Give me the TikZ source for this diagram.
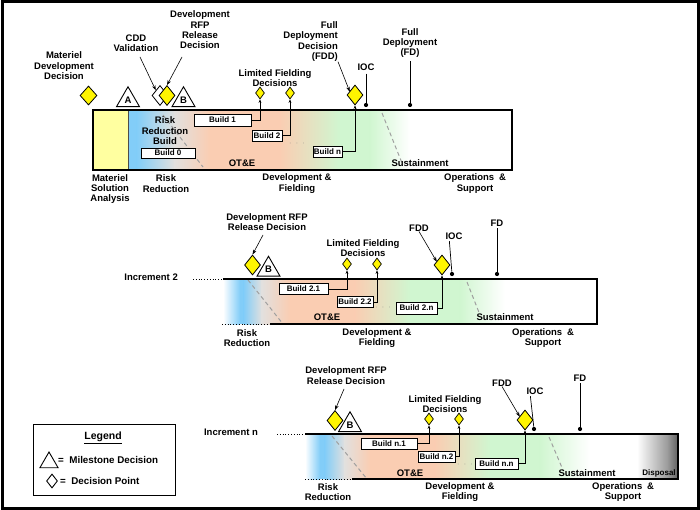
\documentclass[tikz,border=0pt]{standalone}
\usepackage{fontspec}
\setmainfont{Liberation Sans}
\usetikzlibrary{shapes.geometric,arrows.meta,calc}
\definecolor{blueC}{RGB}{130,205,248}
\definecolor{grayC}{RGB}{226,224,222}
\definecolor{peachC}{RGB}{250,205,178}
\definecolor{greenC}{RGB}{208,246,208}
\definecolor{msaC}{RGB}{255,255,160}
\definecolor{ydC}{RGB}{255,245,0}
\begin{document}
\begin{tikzpicture}[x=1pt,y=-1pt,
  lbl/.style={font=\fontsize{9.5}{10.4}\selectfont\bfseries, align=center, inner sep=0},
  buildbox/.style={draw, fill=white, line width=0.8, font=\fontsize{8}{9}\selectfont\bfseries, inner sep=0},
  ydiam/.style={diamond, draw, fill=ydC, line width=0.8, inner sep=0, minimum width=16, minimum height=20},
  sdiam/.style={diamond, draw, fill=ydC, line width=0.7, inner sep=0, minimum width=9, minimum height=12},
  wdiam/.style={diamond, draw, fill=white, line width=0.8, inner sep=0, minimum width=16, minimum height=20},
  milestone/.style={regular polygon, regular polygon sides=3, draw, fill=white, line width=0.9, inner sep=0, minimum size=26.5, font=\fontsize{9.5}{10}\selectfont\bfseries},
  dot/.style={circle, fill=black, inner sep=0, minimum size=4.2},
  arr/.style={-{Stealth[length=5pt,width=3.5pt]}, line width=0.6},
  conn/.style={-{Stealth[length=3.5pt,width=2.8pt]}, line width=0.7},
  pin/.style={line width=0.7},
  gdash/.style={gray!75, line width=1, dash pattern=on 4pt off 3pt},
  bandline/.style={line width=1.1},
  dotline/.style={line width=0.8, dotted},
  dots3/.style={font=\fontsize{8}{9}\selectfont, text=gray, inner sep=0}
]
\useasboundingbox (0,0) rectangle (700,510);
\draw[line width=3] (2,2) rectangle (698,508);

%% ================= Increment 1 =================
\fill[msaC] (93,110) rectangle (128,170);
\fill[blueC] (128,110) rectangle (137,170);
\shade[left color=blueC,right color=grayC] (136.7,110) rectangle (175,170);
\shade[left color=grayC,right color=peachC] (174.7,110) rectangle (210,170);
\fill[peachC] (209.7,110) rectangle (280,170);
\shade[left color=peachC,right color=greenC] (279.7,110) rectangle (340,170);
\fill[greenC] (339.7,110) rectangle (370,170);
\shade[left color=greenC,right color=white] (369.7,110) rectangle (410,170);
\draw[line width=0.6, black!70] (128,110) -- (128,170);
\draw[gdash] (163,115) -- (203,167);
\draw[gdash] (382,113) -- (402,163);
\draw[bandline] (93,110) rectangle (512,170);

\node[lbl] (rrb) at (165,131) {Risk\\Reduction\\Build};
\node[lbl] (ote1) at (242,163) {OT\&E};
\node[lbl] (sus1) at (420,163) {Sustainment};

\node[buildbox, minimum width=54, minimum height=10] (b10) at (168,153) {Build 0};
\node[buildbox, minimum width=57, minimum height=12] (b11) at (222.5,120) {Build 1};
\node[buildbox, minimum width=30, minimum height=11] (b12) at (267,135.5) {Build 2};
\node[dots3] (d1) at (297,144) {$\cdot\;\cdot\;\cdot$};
\node[buildbox, minimum width=29, minimum height=11] (b1n) at (327.5,151.5) {Build n};

\node[lbl] (mddl) at (64,66) {Materiel\\Development\\Decision};
\node[ydiam, minimum width=17, minimum height=19] (mdd) at (88.5,95.5) {};
\node[milestone] (msA) at (128,100) {A};
\node[lbl] (cddl) at (136,43) {CDD\\Validation};
\node[wdiam] (cdd) at (160,95.5) {};
\node[ydiam] (rfp1) at (167,95.5) {};
\node[milestone] (msB1) at (183.5,100) {B};
\node[lbl] (rfp1l) at (200,30) {Development\\RFP\\Release\\Decision};
\draw[arr] (140,57) -- (cdd.north west);
\draw[arr] (182,57) -- (rfp1.north);

\node[lbl] (lfd1l) at (275,78) {Limited Fielding\\Decisions};
\node[sdiam] (lf11) at (260,93) {};
\node[sdiam] (lf12) at (290,93) {};
\node[ydiam] (fdd1) at (355,95) {};
\node[lbl, align=right, anchor=east] (fdd1l) at (338,41.5) {Full\\Deployment\\Decision\\(FDD)};
\draw[arr] (fdd1l.south east) -- ([xshift=-1pt,yshift=-2pt]fdd1.north west);
\node[lbl] (ioc1l) at (366,67) {IOC};
\node[dot] (ioc1) at (366,105) {};
\draw[pin] (ioc1l.south) ++(0,3) -- (ioc1);
\node[lbl] (fd1l) at (410,43) {Full\\Deployment\\(FD)};
\node[dot] (fd1) at (410,105) {};
\draw[pin] (fd1l.south) ++(0,3) -- (fd1);

\draw[conn] (b11.east) -| (lf11.south);
\draw[conn] (b12.east) -| (lf12.south);
\draw[conn] (b1n.east) -| (fdd1.south);

\node[lbl] (msal) at (110,189) {Materiel\\Solution\\Analysis};
\node[lbl] (rr1) at (166,183.5) {Risk\\Reduction};
\node[lbl] (df1) at (297,183.5) {Development \&\\Fielding};
\node[lbl] (os1) at (475,183.5) {Operations\enspace\&\\Support};

%% ================= Increment 2 =================
\shade[left color=white,right color=blueC] (223,279) rectangle (240,324);
\fill[blueC] (239.7,279) rectangle (244,324);
\shade[left color=blueC,right color=grayC] (243.7,279) rectangle (262,324);
\shade[left color=grayC,right color=peachC] (261.7,279) rectangle (290,324);
\fill[peachC] (289.7,279) rectangle (355,324);
\shade[left color=peachC,right color=greenC] (354.7,279) rectangle (410,324);
\fill[greenC] (409.7,279) rectangle (460,324);
\shade[left color=greenC,right color=white] (459.7,279) rectangle (505,324);
\draw[gdash] (248,280) -- (283,324);
\draw[gdash] (467,282) -- (480,315);
\draw[dotline] (193,279) -- (223,279);
\draw[dotline] (222,324) -- (270,324);
\draw[bandline] (223,279) -- (597,279) -- (597,324) -- (270,324);

\node[lbl, anchor=east] (inc2) at (178,277.5) {Increment 2};
\node[lbl] (rfp2l) at (267,222) {Development RFP\\Release Decision};
\node[ydiam] (rfp2) at (252.5,265) {};
\node[milestone] (msB2) at (268.5,269.5) {B};
\draw[arr] (263,235) -- (rfp2.north);

\node[lbl] (lfd2l) at (363,248) {Limited Fielding\\Decisions};
\node[sdiam] (lf21) at (347,264) {};
\node[sdiam] (lf22) at (377,264) {};
\node[ydiam] (fdd2) at (442,265) {};
\node[lbl] (fdd2l) at (419,228) {FDD};
\draw[arr] (fdd2l.south) -- ([xshift=-1pt,yshift=-2pt]fdd2.north west);
\node[lbl] (ioc2l) at (454,236) {IOC};
\node[dot] (ioc2) at (452,274) {};
\draw[pin] (ioc2l.south west) ++(4,1.5) -- (ioc2);
\node[lbl] (fd2l) at (497,223) {FD};
\node[dot] (fd2) at (497,274) {};
\draw[pin] (fd2l.south) ++(0,2) -- (fd2);

\node[buildbox, minimum width=49, minimum height=11] (b21) at (303.5,289) {Build 2.1};
\node[buildbox, minimum width=36, minimum height=11] (b22) at (355,302) {Build 2.2};
\node[dots3] (d2) at (383,308) {$\cdot\;\cdot\;\cdot$};
\node[buildbox, minimum width=41, minimum height=12] (b2n) at (416.5,308) {Build 2.n};
\draw[conn] (b21.east) -| (lf21.south);
\draw[conn] (b22.east) -| (lf22.south);
\draw[conn] (b2n.east) -| (fdd2.south);

\node[lbl] (ote2) at (327,317) {OT\&E};
\node[lbl] (sus2) at (505,317) {Sustainment};
\node[lbl] (rr2) at (247,338) {Risk\\Reduction};
\node[lbl] (df2) at (377,338) {Development \&\\Fielding};
\node[lbl] (os2) at (543,338) {Operations\enspace\&\\Support};

%% ================= Increment n =================
\shade[left color=white,right color=blueC] (305,434) rectangle (320,479);
\fill[blueC] (319.7,434) rectangle (325,479);
\shade[left color=blueC,right color=grayC] (324.7,434) rectangle (345,479);
\shade[left color=grayC,right color=peachC] (344.7,434) rectangle (370,479);
\fill[peachC] (369.7,434) rectangle (435,479);
\shade[left color=peachC,right color=greenC] (434.7,434) rectangle (490,479);
\fill[greenC] (489.7,434) rectangle (540,479);
\shade[left color=greenC,right color=white] (539.7,434) rectangle (590,479);
\shade[left color=white,right color=black!40] (637,434) rectangle (668,479);
\shade[left color=black!40,right color=black!62] (667.7,434) rectangle (678,479);
\draw[gdash] (332,436) -- (367,479);
\draw[gdash] (549,437) -- (563,470);
\draw[dotline] (277,434) -- (305,434);
\draw[dotline] (305,479) -- (352,479);
\draw[bandline] (305,434) -- (678,434) -- (678,479) -- (352,479);

\node[lbl] (incn) at (231,432) {Increment n};
\node[lbl] (rfpnl) at (346,375.5) {Development RFP\\Release Decision};
\node[ydiam] (rfpn) at (335,420.5) {};
\node[milestone] (msBn) at (350,425) {B};
\draw[arr] (344,389) -- (rfpn.north);

\node[lbl] (lfdnl) at (445,404) {Limited Fielding\\Decisions};
\node[sdiam] (lfn1) at (429,419) {};
\node[sdiam] (lfn2) at (459,419) {};
\node[ydiam] (fddn) at (525,420) {};
\node[lbl] (fddnl) at (502,383) {FDD};
\draw[arr] (fddnl.south) -- ([xshift=-1pt,yshift=-2pt]fddn.north west);
\node[lbl] (iocnl) at (535,391) {IOC};
\node[dot] (iocn) at (534,429) {};
\draw[pin] (iocnl.south west) ++(4,1.5) -- (iocn);
\node[lbl] (fdnl) at (580,378) {FD};
\node[dot] (fdn) at (580,429) {};
\draw[pin] (fdnl.south) ++(0,2) -- (fdn);

\node[buildbox, minimum width=56, minimum height=11] (bn1) at (389,443.5) {Build n.1};
\node[buildbox, minimum width=37, minimum height=11] (bn2) at (436.5,456.5) {Build n.2};
\node[dots3] (dn) at (465,465) {$\cdot\;\cdot\;\cdot$};
\node[buildbox, minimum width=43, minimum height=11] (bnn) at (496.5,463.5) {Build n.n};
\draw[conn] (bn1.east) -| (lfn1.south);
\draw[conn] (bn2.east) -| (lfn2.south);
\draw[conn] (bnn.east) -| (fddn.south);

\node[lbl] (oten) at (410,473) {OT\&E};
\node[lbl] (susn) at (587,473) {Sustainment};
\node[lbl, font=\fontsize{8}{9}\selectfont\bfseries] (disp) at (659,473) {Disposal};
\node[lbl] (rrn) at (328,492) {Risk\\Reduction};
\node[lbl] (dfn) at (460,492) {Development \&\\Fielding};
\node[lbl] (osn) at (623,492) {Operations\enspace\&\\Support};

%% ================= Legend =================
\draw[line width=1] (33,424) rectangle (175,495);
\node[lbl, font=\fontsize{10.5}{12}\selectfont\bfseries] (legt) at (103,438) {\underline{Legend}};
\node[regular polygon, regular polygon sides=3, draw, line width=0.9, inner sep=0, minimum size=21] (legtri) at (49,462.5) {};
\node[lbl, anchor=west, font=\fontsize{9.8}{11}\selectfont\bfseries] (legms) at (58,460) {=\ \ Milestone Decision};
\node[diamond, draw, line width=0.9, inner sep=0, minimum width=11, minimum height=14] (legdia) at (52,481) {};
\node[lbl, anchor=west, font=\fontsize{9.8}{11}\selectfont\bfseries] (legdp) at (60,481) {=\ \ Decision Point};
\end{tikzpicture}
\end{document}
